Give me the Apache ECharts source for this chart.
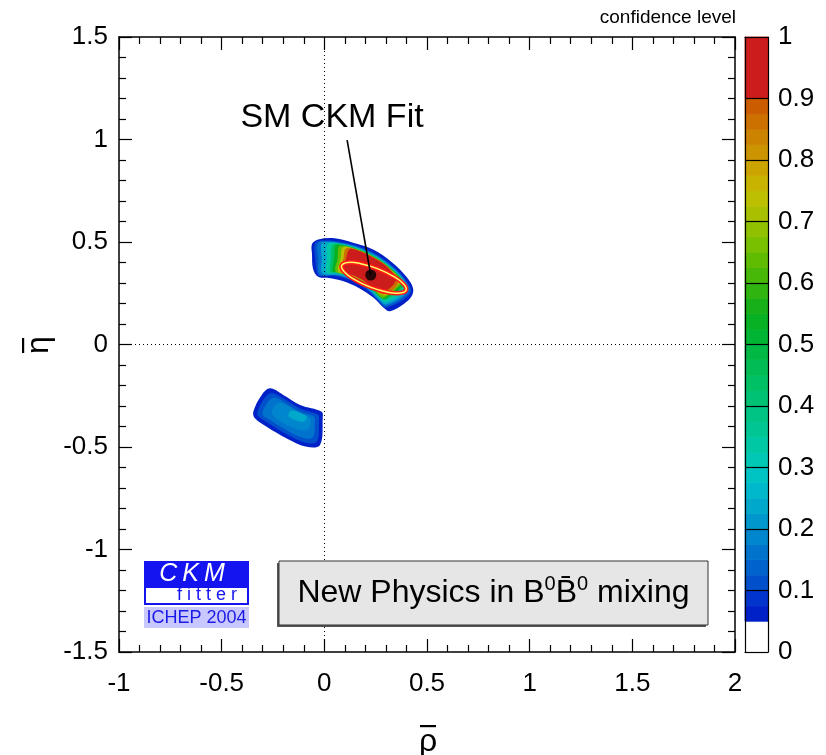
<!DOCTYPE html>
<html>
<head>
<meta charset="utf-8">
<script src="https://cdn.jsdelivr.net/npm/echarts@6.0.0/dist/echarts.min.js"></script>
<style>
html,body{margin:0;padding:0;background:#ffffff;}
#chart{width:826px;height:755px;}
</style>
</head>
<body>
<div id="chart"></div>
<script>
const FONT = 'Liberation Sans, Arial, Helvetica, sans-serif';

// ---- axis ranges / ticks ----
const rhoRange = [-1, 2];
const etaRange = [-1.5, 1.5];
const clRange = [0, 1];

// ---- colour bar bands (confidence level) ----
const cbLow  = [0, 0.05, 0.075, 0.1, 0.125, 0.15, 0.175, 0.2, 0.225, 0.25, 0.275, 0.3, 0.325, 0.35, 0.375, 0.4, 0.425, 0.45, 0.475, 0.5, 0.525, 0.55, 0.575, 0.6, 0.625, 0.65, 0.675, 0.7, 0.725, 0.75, 0.775, 0.8, 0.825, 0.85, 0.875, 0.9];
const cbHigh = [0.05, 0.075, 0.1, 0.125, 0.15, 0.175, 0.2, 0.225, 0.25, 0.275, 0.3, 0.325, 0.35, 0.375, 0.4, 0.425, 0.45, 0.475, 0.5, 0.525, 0.55, 0.575, 0.6, 0.625, 0.65, 0.675, 0.7, 0.725, 0.75, 0.775, 0.8, 0.825, 0.85, 0.875, 0.9, 1.0];
const cbColors = ['#ffffff', '#0020c8', '#0034cc', '#0050cc', '#0062cc', '#0074cc', '#0086cc', '#0098cc', '#00a8cc', '#00b8cc', '#00c4c4', '#00c8b4', '#00c8a4', '#00c694', '#00c484', '#00c274', '#00c064', '#00bc54', '#00b844', '#00b434', '#08b024', '#18b018', '#30b410', '#48b808', '#60bc00', '#78c000', '#90c000', '#a8c000', '#bcc000', '#c8b400', '#cca400', '#cc9400', '#cc8400', '#cc7000', '#cc5c00', '#cc1c1c'];

// ---- allowed region (upper, rho>0 eta>0), nested confidence-level contours ----
const upperCL05 = [[-0.06,0.49],[-0.03,0.512],[0.05,0.518],[0.14,0.496],[0.24,0.462],[0.33,0.4],[0.4,0.33],[0.432,0.275],[0.425,0.235],[0.39,0.2],[0.32,0.162],[0.29,0.178],[0.24,0.228],[0.17,0.275],[0.09,0.31],[0.02,0.325],[-0.03,0.33],[-0.055,0.37],[-0.06,0.44]];
const upperCL10 = [[-0.044,0.495],[0,0.507],[0.088,0.499],[0.173,0.476],[0.254,0.439],[0.326,0.388],[0.388,0.326],[0.42,0.252],[0.302,0.181],[0.259,0.217],[0.217,0.259],[0.169,0.293],[0.116,0.318],[0.059,0.333],[0,0.338],[-0.029,0.337],[-0.044,0.42]];
const upperCL15 = [[-0.031,0.495],[0.01,0.502],[0.087,0.495],[0.172,0.473],[0.252,0.436],[0.323,0.385],[0.385,0.323],[0.413,0.258],[0.302,0.189],[0.262,0.22],[0.22,0.262],[0.171,0.296],[0.117,0.321],[0.059,0.337],[-0.021,0.341],[-0.03,0.42]];
const upperCL20 = [[-0.013,0.492],[0.02,0.5],[0.087,0.492],[0.171,0.47],[0.25,0.433],[0.321,0.383],[0.383,0.321],[0.405,0.263],[0.302,0.196],[0.265,0.222],[0.222,0.265],[0.173,0.3],[0.118,0.325],[0.06,0.341],[-0.009,0.346],[-0.012,0.42]];
const upperCL30 = [[0.017,0.49],[0.086,0.489],[0.17,0.467],[0.249,0.43],[0.319,0.381],[0.381,0.319],[0.394,0.271],[0.301,0.207],[0.27,0.226],[0.226,0.27],[0.176,0.305],[0.12,0.331],[0.061,0.347],[0.012,0.352],[0.013,0.42]];
const upperCL40 = [[0.039,0.487],[0.086,0.486],[0.169,0.464],[0.247,0.428],[0.318,0.378],[0.378,0.318],[0.384,0.279],[0.299,0.217],[0.272,0.228],[0.228,0.272],[0.178,0.307],[0.121,0.334],[0.062,0.35],[0.028,0.354],[0.033,0.42]];
const upperCL50 = [[0.055,0.485],[0.085,0.485],[0.168,0.462],[0.246,0.426],[0.316,0.377],[0.377,0.316],[0.377,0.284],[0.297,0.224],[0.274,0.23],[0.23,0.274],[0.179,0.31],[0.122,0.336],[0.062,0.353],[0.04,0.356],[0.048,0.42]];
const upperCL60 = [[0.075,0.48],[0.168,0.46],[0.245,0.424],[0.315,0.375],[0.375,0.315],[0.37,0.289],[0.296,0.231],[0.276,0.231],[0.231,0.276],[0.18,0.312],[0.123,0.338],[0.055,0.356],[0.065,0.42]];
const upperCL70 = [[0.092,0.475],[0.167,0.46],[0.245,0.423],[0.314,0.375],[0.372,0.312],[0.365,0.296],[0.295,0.239],[0.233,0.277],[0.181,0.313],[0.124,0.34],[0.068,0.356],[0.08,0.42]];
const upperCL80 = [[0.106,0.47],[0.167,0.459],[0.244,0.423],[0.314,0.374],[0.36,0.302],[0.291,0.244],[0.234,0.279],[0.182,0.315],[0.124,0.342],[0.079,0.355],[0.093,0.42]];
const upperCL90 = [[0.123,0.465],[0.166,0.457],[0.243,0.421],[0.312,0.372],[0.349,0.314],[0.286,0.258],[0.235,0.28],[0.183,0.317],[0.125,0.344],[0.092,0.354],[0.106,0.42]];

// ---- allowed region (lower, rho<0 eta<0) ----
const lowerCL05 = [[-0.264,-0.214],[-0.2,-0.246],[-0.118,-0.295],[-0.013,-0.328],[-0.008,-0.36],[-0.021,-0.49],[-0.086,-0.499],[-0.183,-0.458],[-0.281,-0.401],[-0.338,-0.36],[-0.346,-0.328],[-0.305,-0.246]];
const lowerCL10 = [[-0.255,-0.236],[-0.195,-0.266],[-0.118,-0.312],[-0.03,-0.343],[-0.026,-0.37],[-0.036,-0.473],[-0.088,-0.48],[-0.18,-0.44],[-0.272,-0.384],[-0.322,-0.35],[-0.326,-0.33],[-0.292,-0.262]];
const lowerCL15 = [[-0.245,-0.26],[-0.19,-0.285],[-0.12,-0.327],[-0.05,-0.352],[-0.046,-0.38],[-0.056,-0.452],[-0.095,-0.458],[-0.175,-0.423],[-0.262,-0.37],[-0.3,-0.342],[-0.278,-0.285]];
const lowerCL20 = [[-0.225,-0.285],[-0.175,-0.302],[-0.12,-0.338],[-0.07,-0.358],[-0.072,-0.405],[-0.108,-0.42],[-0.17,-0.398],[-0.238,-0.358],[-0.255,-0.325]];
const lowerCL25 = [[-0.16,-0.322],[-0.11,-0.337],[-0.085,-0.355],[-0.1,-0.377],[-0.14,-0.37],[-0.175,-0.348]];

const regionPolys = [upperCL05, upperCL10, upperCL15, upperCL20, upperCL30, upperCL40, upperCL50, upperCL60, upperCL70, upperCL80, upperCL90,
                     lowerCL05, lowerCL10, lowerCL15, lowerCL20, lowerCL25];
// confidence level shown inside each contour
const regionShade = [0.06, 0.11, 0.16, 0.24, 0.33, 0.44, 0.54, 0.64, 0.74, 0.86, 0.95,
                     0.06, 0.11, 0.15, 0.19, 0.23];

// ---- SM CKM fit ----
const smFitContour = [[0.398,0.265],[0.386,0.295],[0.334,0.334],[0.258,0.370],[0.177,0.394],[0.114,0.400],[0.084,0.385],[0.097,0.355],[0.148,0.316],[0.224,0.280],[0.305,0.256],[0.368,0.251]];
const smFitPoint = [[0.226, 0.339]];
const smPointer = [[0.111, 0.997], [0.226, 0.339]];
const smLabelAt = [[0.0375, 1.105]];

function colorForCL(v) {
  for (let i = 0; i < cbLow.length; i++) {
    if (v >= cbLow[i] && v < cbHigh[i]) return cbColors[i];
  }
  return cbColors[cbColors.length - 1];
}

const chart = echarts.init(document.getElementById('chart'), null, {renderer: 'canvas'});

const tickStyle = {color: '#000', width: 1.2};
const lineStyleAx = {color: '#000', width: 1.5};

function mainX(pos, withLabels) {
  return {
    gridIndex: 0, type: 'value', min: rhoRange[0], max: rhoRange[1], interval: 0.5, position: pos,
    axisLine: {show: true, onZero: false, lineStyle: lineStyleAx},
    axisTick: {show: true, inside: true, length: 13, lineStyle: tickStyle},
    minorTick: {show: true, splitNumber: 5, length: 7, lineStyle: tickStyle},
    axisLabel: {show: withLabels, color: '#000', fontSize: 26, fontFamily: FONT, margin: 19},
    splitLine: {show: false}, minorSplitLine: {show: false}
  };
}
function mainY(pos, withLabels) {
  return {
    gridIndex: 0, type: 'value', min: etaRange[0], max: etaRange[1], interval: 0.5, position: pos,
    axisLine: {show: true, onZero: false, lineStyle: lineStyleAx},
    axisTick: {show: true, inside: true, length: 13, lineStyle: tickStyle},
    minorTick: {show: true, splitNumber: 5, length: 7, lineStyle: tickStyle},
    axisLabel: {show: withLabels, color: '#000', fontSize: 26, fontFamily: FONT, margin: 11},
    splitLine: {show: false}, minorSplitLine: {show: false}
  };
}

const option = {
  backgroundColor: '#ffffff',
  animation: false,
  grid: [
    {left: 119, top: 37, width: 616, height: 615, show: false, containLabel: false, outerBoundsMode: 'none'},
    {left: 745, top: 37, width: 23, height: 615, show: false, containLabel: false, outerBoundsMode: 'none'}
  ],
  xAxis: [
    mainX('bottom', true),
    mainX('top', false),
    {gridIndex: 1, type: 'value', min: 0, max: 1, position: 'bottom', z: 10,
     axisLine: {show: true, onZero: false, lineStyle: {color: '#000', width: 1.2}},
     axisTick: {show: false}, axisLabel: {show: false}, splitLine: {show: false}},
    {gridIndex: 1, type: 'value', min: 0, max: 1, position: 'top', z: 10,
     axisLine: {show: true, onZero: false, lineStyle: {color: '#000', width: 1.2}},
     axisTick: {show: false}, axisLabel: {show: false}, splitLine: {show: false}}
  ],
  yAxis: [
    mainY('left', true),
    mainY('right', false),
    {gridIndex: 1, type: 'value', min: clRange[0], max: clRange[1], interval: 0.1, position: 'right', z: 10,
     axisLine: {show: true, onZero: false, lineStyle: {color: '#000', width: 1.2}},
     axisTick: {show: true, inside: true, length: 23, lineStyle: {color: '#000', width: 1.2}},
     axisLabel: {show: true, color: '#000', fontSize: 26, fontFamily: FONT, margin: 10},
     splitLine: {show: false}},
    {gridIndex: 1, type: 'value', min: clRange[0], max: clRange[1], interval: 0.1, position: 'left', z: 10,
     axisLine: {show: true, onZero: false, lineStyle: {color: '#000', width: 1.2}},
     axisTick: {show: false}, axisLabel: {show: false}, splitLine: {show: false}}
  ],
  series: [
    {
      type: 'custom', name: 'regions', xAxisIndex: 0, yAxisIndex: 0, z: 2, silent: true,
      data: regionPolys.map(p => [p[0][0], p[0][1]]),
      renderItem: function (params, api) {
        const poly = regionPolys[params.dataIndex];
        return {
          type: 'polygon',
          shape: {points: poly.map(p => api.coord(p)), smooth: 0.35},
          style: {fill: colorForCL(regionShade[params.dataIndex]), stroke: null}
        };
      }
    },
    {
      type: 'custom', name: 'smfit', xAxisIndex: 0, yAxisIndex: 0, z: 4, silent: true,
      data: [[smFitContour[0][0], smFitContour[0][1]]],
      renderItem: function (params, api) {
        const pts = smFitContour.map(p => api.coord(p));
        return {
          type: 'group',
          children: [
            {type: 'polygon', shape: {points: pts, smooth: 0.5}, style: {fill: null, stroke: '#ff1a1a', lineWidth: 4.5}},
            {type: 'polygon', shape: {points: pts, smooth: 0.5}, style: {fill: null, stroke: '#ffff66', lineWidth: 1.5}}
          ]
        };
      }
    },
    {
      type: 'line', name: 'pointer', xAxisIndex: 0, yAxisIndex: 0, z: 5, silent: true,
      data: smPointer, symbol: 'none', lineStyle: {color: '#000', width: 1.6},
      markLine: {
        silent: true, symbol: ['none', 'none'], label: {show: false},
        lineStyle: {color: '#000', type: [1, 3], width: 1},
        data: [{xAxis: 0}, {yAxis: 0}]
      }
    },
    {
      type: 'scatter', name: 'fit', xAxisIndex: 0, yAxisIndex: 0, z: 6, silent: true,
      data: smFitPoint, symbol: 'circle', symbolSize: 11, itemStyle: {color: '#000'}
    },
    {
      type: 'scatter', name: 'fitlabel', xAxisIndex: 0, yAxisIndex: 0, z: 6, silent: true,
      data: smLabelAt, symbolSize: 1, itemStyle: {color: 'transparent'},
      label: {show: true, position: 'inside', formatter: 'SM CKM Fit', color: '#000000', opacity: 1, fontSize: 34, fontFamily: FONT}
    },
    {
      type: 'custom', name: 'colorbar', xAxisIndex: 2, yAxisIndex: 2, z: 2, silent: true,
      data: cbLow.map((lo, i) => [0, lo, cbHigh[i]]),
      renderItem: function (params, api) {
        const tl = api.coord([0, api.value(2)]);
        const br = api.coord([1, api.value(1)]);
        const c = cbColors[params.dataIndex];
        return {
          type: 'rect',
          shape: {x: tl[0], y: tl[1], width: br[0] - tl[0], height: br[1] - tl[1]},
          style: {fill: c, stroke: c, lineWidth: 0.8}
        };
      }
    }
  ],
  graphic: [
    {type: 'text', z: 100, x: 736, y: 18,
     style: {text: 'confidence level', fontSize: 19, fontFamily: FONT, fill: '#000', align: 'right', textAlign: 'right', verticalAlign: 'middle', textVerticalAlign: 'middle'}},
    // axis titles: rho-bar and eta-bar
    {type: 'text', z: 100, x: 428, y: 742,
     style: {text: 'ρ', fontSize: 32, fontFamily: FONT, fill: '#000', align: 'center', textAlign: 'center', verticalAlign: 'middle', textVerticalAlign: 'middle'}},
    {type: 'rect', z: 100, shape: {x: 420, y: 725, width: 16, height: 2.2}, style: {fill: '#000'}},
    {type: 'text', z: 100, x: 39, y: 345, rotation: Math.PI / 2,
     style: {text: 'η', fontSize: 32, fontFamily: FONT, fill: '#000', align: 'center', textAlign: 'center', verticalAlign: 'middle', textVerticalAlign: 'middle'}},
    {type: 'rect', z: 100, shape: {x: 22, y: 338, width: 2.2, height: 15}, style: {fill: '#000'}},
    // CKMfitter logo
    {type: 'rect', z: 100, shape: {x: 144, y: 561, width: 105, height: 25}, style: {fill: '#1414f0'}},
    {type: 'text', z: 101, x: 192, y: 574,
     style: {text: 'C\u2009K\u2009M', fontSize: 25, fontStyle: 'italic', fontFamily: FONT, fill: '#ffffff', align: 'center', textAlign: 'center', verticalAlign: 'middle', textVerticalAlign: 'middle'}},
    {type: 'rect', z: 100, shape: {x: 145, y: 587, width: 103, height: 17}, style: {fill: '#ffffff', stroke: '#1414f0', lineWidth: 2}},
    {type: 'text', z: 101, x: 207, y: 595.5,
     style: {text: 'f i t t e r', fontSize: 18, fontFamily: FONT, fill: '#1414f0', align: 'center', textAlign: 'center', verticalAlign: 'middle', textVerticalAlign: 'middle'}},
    {type: 'rect', z: 100, shape: {x: 144, y: 607, width: 105, height: 21}, style: {fill: '#c8c8ff'}},
    {type: 'text', z: 101, x: 196.5, y: 618,
     style: {text: 'ICHEP 2004', fontSize: 18, fontFamily: FONT, fill: '#1a1ae6', align: 'center', textAlign: 'center', verticalAlign: 'middle', textVerticalAlign: 'middle'}},
    // title box with shadow to the lower left
    {type: 'rect', z: 99, shape: {x: 277, y: 563, width: 429, height: 64}, style: {fill: '#555555'}},
    {type: 'rect', z: 100, shape: {x: 279, y: 561, width: 429, height: 64},
     style: {fill: '#e6e6e6', stroke: '#333333', lineWidth: 1}},
    {type: 'text', z: 101, x: 493.5, y: 593,
     style: {
       text: '{n|New Physics in B}{s|0}{n|B\u0304}{s|0}{n| mixing}',
       align: 'center', textAlign: 'center', verticalAlign: 'middle', textVerticalAlign: 'middle',
       rich: {
         n: {fontSize: 32, fontFamily: FONT, fill: '#000', lineHeight: 38},
         s: {fontSize: 20, fontFamily: FONT, fill: '#000', lineHeight: 22, verticalAlign: 'top'}
       }
     }}
  ]
};

chart.setOption(option);
</script>
</body>
</html>
